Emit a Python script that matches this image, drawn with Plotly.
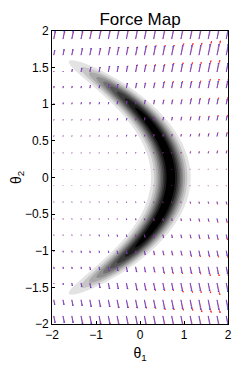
import numpy as np
import plotly.graph_objects as go
import plotly.figure_factory as ff

# ---------------- data ----------------
TITLE = "Force Map"
X_TICKS = [-2, -1, 0, 1, 2]
Y_TICKS = [-2, -1.5, -1, -0.5, 0, 0.5, 1, 1.5, 2]

# quiver grid
THETA1_GRID = [-1.96, -1.75, -1.55, -1.34, -1.14, -0.93, -0.72, -0.52, -0.31, -0.10,
               0.10, 0.31, 0.52, 0.72, 0.93, 1.14, 1.34, 1.55, 1.75, 1.96]
THETA2_GRID = [-1.89, -1.67, -1.44, -1.22, -1.00, -0.78, -0.56, -0.33, -0.11,
               0.11, 0.33, 0.56, 0.78, 1.00, 1.22, 1.44, 1.67, 1.89]

# vertical force component (rows follow THETA2_GRID, columns follow THETA1_GRID)
FORCE_V = [
    [-7, -7, -7, -8, -8, -8, -8, -9, -9, -9, -9, -9, -10, -10, -10, -10, -11, -11, -11, -12],
    [-5, -5, -6, -6, -7, -7, -7, -8, -8, -8, -8, -8, -9, -9, -9, -9, -10, -10, -10, -10],
    [-1, -2, -3, -4, -5, -5, -6, -6, -6, -7, -7, -7, -7, -7, -8, -8, -8, -8, -9, -9],
    [-2, -2, -2, -2, -3, -3, -4, -4, -5, -5, -5, -5, -6, -6, -6, -6, -6, -7, -7, -7],
    [-1, -1.5, -1.5, -2, -2, -2, -2, -3, -3, -3, -4, -4, -4, -4, -4, -5, -5, -5, -5, -5],
    [-1, -1, -1, -1, -1, -1.5, -1.5, -2, -2, -2, -2.5, -3, -3, -3, -3, -3, -3.5, -3.5, -4, -4],
    [-1, -1, -1, -1, -1, -1, -1, -1, -1.5, -1.5, -1.5, -2, -2, -2, -2, -2, -2.5, -2.5, -3, -3],
    [-0.8, -0.8, -0.8, -0.8, -0.8, -0.8, -0.8, -0.8, -1, -1, -1, -1, -1, -1, -1, -1.5, -1.5, -1.5, -2, -2],
    [-0.4, -0.4, -0.4, -0.4, -0.4, -0.4, -0.4, -0.4, -0.4, -0.4, -0.4, -0.4, -0.4, -0.4, -0.4, -0.5, -0.5, -0.5, -0.5, -0.5],
    [0.4, 0.4, 0.4, 0.4, 0.4, 0.4, 0.4, 0.4, 0.4, 0.4, 0.4, 0.4, 0.4, 0.4, 0.4, 0.5, 0.5, 0.5, 0.5, 0.5],
    [0.8, 0.8, 0.8, 0.8, 0.8, 0.8, 0.8, 0.8, 1, 1, 1, 1, 1, 1, 1, 1.5, 1.5, 1.5, 2, 2],
    [1, 1, 1, 1, 1, 1, 1, 1, 1.5, 1.5, 1.5, 2, 2, 2, 2, 2, 2.5, 2.5, 3, 3],
    [1, 1, 1, 1, 1, 1.5, 1.5, 2, 2, 2, 2.5, 3, 3, 3, 3, 3, 3.5, 3.5, 4, 4],
    [1, 1.5, 1.5, 2, 2, 2, 2, 3, 3, 3, 4, 4, 4, 4, 4, 5, 5, 5, 5, 5],
    [2, 2, 2, 2, 3, 3, 4, 4, 5, 5, 5, 5, 6, 6, 6, 6, 6, 7, 7, 7],
    [1, 1, 3, 4, 5, 5, 6, 6, 6, 7, 7, 7, 7, 8, 8, 8, 8, 9, 9, 9],
    [5, 6, 6, 7, 7, 7, 8, 8, 8, 8, 9, 9, 9, 9, 10, 10, 10, 11, 11, 11],
    [8, 8, 8, 8, 9, 9, 9, 9, 9, 9, 10, 10, 10, 11, 11, 11, 12, 12, 12, 13],
]
TILT_BLUE = 0.28      # horizontal / vertical force ratio of the blue field
TILT_RED = 0.40       # horizontal / vertical force ratio of the red field
RED_GAIN = [0.9, 0.9, 0.9, 0.92, 0.94, 0.96, 0.98, 1.0, 1.02, 1.04,
            1.06, 1.08, 1.1, 1.12, 1.15, 1.18, 1.22, 1.26, 1.3, 1.35]

# crescent (banana) density parameters
CREST_THETA1 = 0.70   # theta1 of the density ridge at theta2 = 0
CURVATURE = 0.88      # ridge: theta1 = CREST - CURVATURE * theta2^2
BAND_SIGMA = 0.21     # width across the ridge
TIP_THETA2 = 1.60     # |theta2| where the outer level closes
ALONG_POWER = 6
LEVEL_START, LEVEL_END, LEVEL_STEP = 0.1, 0.9, 0.1

# ---------------- figure ----------------
FONT = "Liberation Sans, Arial, Helvetica, sans-serif"

t1 = np.linspace(-2, 2, 401)
t2 = np.linspace(-2, 2, 401)
T1, T2 = np.meshgrid(t1, t2)
density = np.exp(-((T1 + CURVATURE * T2 ** 2 - CREST_THETA1) ** 2) / (2 * BAND_SIGMA ** 2)
                 + np.log(LEVEL_START) * (np.abs(T2) / TIP_THETA2) ** ALONG_POWER)

fig = go.Figure()
fig.add_trace(go.Contour(
    x=t1, y=t2, z=density,
    autocontour=False,
    contours=dict(start=LEVEL_START, end=LEVEL_END, size=LEVEL_STEP,
                  coloring="fill", showlines=False),
    colorscale=[[0, "#ffffff"], [1, "#000000"]],
    showscale=False, line=dict(width=0), hoverinfo="skip",
))

GX, GY = np.meshgrid(THETA1_GRID, THETA2_GRID)
V = np.array(FORCE_V, dtype=float)
U_blue = TILT_BLUE * np.abs(V)
V_red = V * np.array(RED_GAIN)[None, :]
U_red = TILT_RED * np.abs(V_red)

SCALE = 0.0137
red = ff.create_quiver(GX.ravel(), GY.ravel(), U_red.ravel(), V_red.ravel(),
                       scale=SCALE, arrow_scale=0.12,
                       line=dict(color="rgba(255,30,30,0.85)", width=0.9))
blue = ff.create_quiver(GX.ravel(), GY.ravel(), U_blue.ravel(), V.ravel(),
                        scale=SCALE, arrow_scale=0.12,
                        line=dict(color="rgba(50,70,255,0.8)", width=0.9))
for tr in red.data:
    tr.hoverinfo = "skip"
    fig.add_trace(tr)
for tr in blue.data:
    tr.hoverinfo = "skip"
    fig.add_trace(tr)

axis_common = dict(
    showgrid=False, zeroline=False, showline=True, mirror=True, automargin=False,
    linecolor="#000000", linewidth=1, ticks="inside", ticklen=3,
    tickcolor="#000000", tickfont=dict(family=FONT, size=12, color="#000000"),
)
# the page body adds an 8px margin, so the figure is sized to fit inside it
fig.update_layout(
    width=235, height=358,
    margin=dict(l=44, r=15, t=23, b=42),
    paper_bgcolor="white", plot_bgcolor="white",
    showlegend=False,
    title=dict(text=TITLE, x=0.5, xref="paper", xanchor="center",
               y=0.968, yref="container", yanchor="middle",
               font=dict(family=FONT, size=17, color="#000000")),
    xaxis=dict(range=[-2, 2], tickvals=X_TICKS,
               title=dict(text="θ<sub>1</sub>", standoff=6,
                          font=dict(family=FONT, size=14, color="#000000")),
               **axis_common),
    yaxis=dict(range=[-2, 2], tickvals=Y_TICKS,
               title=dict(text="θ<sub>2</sub>", standoff=6,
                          font=dict(family=FONT, size=14, color="#000000")),
               **axis_common),
)

fig.write_html("out.html")
